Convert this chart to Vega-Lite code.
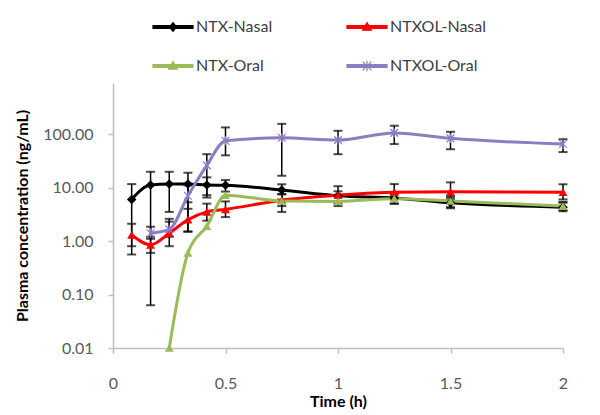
{
  "$schema": "https://vega.github.io/schema/vega-lite/v6.json",
  "width": 450,
  "height": 265,
  "autosize": "none",
  "padding": {"left": 113, "top": 83, "right": 37, "bottom": 67},
  "background": "white",
  "config": {
    "view": {"stroke": null},
    "font": "Lato",
    "axis": {"grid": false, "domainColor": "#bfbfbf", "tickColor": "#bfbfbf", "domainWidth": 1.5, "tickWidth": 1.5, "tickSize": 5, "labelColor": "#595959", "labelFont": "Lato", "labelFontSize": 16, "titleFont": "Lato", "titleFontSize": 16, "titleFontWeight": "bold", "titleColor": "#000000"},
    "legend": {"title": null, "orient": "none", "legendX": 39, "legendY": -77, "columns": 2, "columnPadding": 71, "rowPadding": 10, "padding": 0, "symbolSize": 1600, "symbolStrokeWidth": 1.2, "labelFont": "Lato", "labelFontSize": 16, "labelColor": "#404040", "labelOffset": 2}
  },
  "data": {
    "values": [
      {"series": "NTX-Nasal", "t": 0.083, "v": 6.0, "lo": 0.56, "hi": 11.6},
      {"series": "NTX-Nasal", "t": 0.167, "v": 11.1, "lo": 0.063, "hi": 19.7},
      {"series": "NTX-Nasal", "t": 0.25, "v": 11.6, "lo": 3.5, "hi": 19.7},
      {"series": "NTX-Nasal", "t": 0.333, "v": 11.6, "lo": 1.5, "hi": 18.9},
      {"series": "NTX-Nasal", "t": 0.417, "v": 11.1, "lo": 6.5, "hi": 15.5},
      {"series": "NTX-Nasal", "t": 0.5, "v": 11.0, "lo": 8.4, "hi": 13.8},
      {"series": "NTX-Nasal", "t": 0.75, "v": 9.0, "lo": 6.0, "hi": 11.5},
      {"series": "NTX-Nasal", "t": 1.0, "v": 7.0, "lo": 5.5, "hi": 8.5},
      {"series": "NTX-Nasal", "t": 1.25, "v": 6.4, "lo": 5.0, "hi": 8.0},
      {"series": "NTX-Nasal", "t": 1.5, "v": 5.2, "lo": 4.3, "hi": 6.5},
      {"series": "NTX-Nasal", "t": 2.0, "v": 4.3, "lo": 3.6, "hi": 5.2},
      {"series": "NTXOL-Nasal", "t": 0.083, "v": 1.3, "lo": 0.8, "hi": 2.1},
      {"series": "NTXOL-Nasal", "t": 0.167, "v": 0.85, "lo": 0.6, "hi": 1.2},
      {"series": "NTXOL-Nasal", "t": 0.25, "v": 1.4, "lo": 0.8, "hi": 2.3},
      {"series": "NTXOL-Nasal", "t": 0.333, "v": 2.5, "lo": 1.5, "hi": 5.3},
      {"series": "NTXOL-Nasal", "t": 0.417, "v": 3.5, "lo": 2.4, "hi": 5.0},
      {"series": "NTXOL-Nasal", "t": 0.5, "v": 3.9, "lo": 2.8, "hi": 5.5},
      {"series": "NTXOL-Nasal", "t": 0.75, "v": 5.8, "lo": 4.5, "hi": 7.5},
      {"series": "NTXOL-Nasal", "t": 1.0, "v": 7.2, "lo": 5.0, "hi": 10.6},
      {"series": "NTXOL-Nasal", "t": 1.25, "v": 8.2, "lo": 6.0, "hi": 11.6},
      {"series": "NTXOL-Nasal", "t": 1.5, "v": 8.3, "lo": 6.0, "hi": 12.5},
      {"series": "NTXOL-Nasal", "t": 2.0, "v": 8.2, "lo": 6.0, "hi": 11.5},
      {"series": "NTX-Oral", "t": 0.25, "v": 0.01},
      {"series": "NTX-Oral", "t": 0.333, "v": 0.6},
      {"series": "NTX-Oral", "t": 0.417, "v": 1.9},
      {"series": "NTX-Oral", "t": 0.5, "v": 7.2},
      {"series": "NTX-Oral", "t": 0.75, "v": 5.6, "lo": 3.5, "hi": 7.5},
      {"series": "NTX-Oral", "t": 1.0, "v": 5.5, "lo": 4.5, "hi": 6.8},
      {"series": "NTX-Oral", "t": 1.25, "v": 6.2, "lo": 5.0, "hi": 7.5},
      {"series": "NTX-Oral", "t": 1.5, "v": 5.6, "lo": 4.1, "hi": 7.0},
      {"series": "NTX-Oral", "t": 2.0, "v": 4.5, "lo": 3.8, "hi": 5.4},
      {"series": "NTXOL-Oral", "t": 0.167, "v": 1.4, "lo": 1.1, "hi": 1.85},
      {"series": "NTXOL-Oral", "t": 0.25, "v": 1.65, "lo": 1.2, "hi": 2.6},
      {"series": "NTXOL-Oral", "t": 0.333, "v": 7.0, "lo": 4.0, "hi": 11.0},
      {"series": "NTXOL-Oral", "t": 0.417, "v": 26, "lo": 7.2, "hi": 42},
      {"series": "NTXOL-Oral", "t": 0.5, "v": 75, "lo": 40, "hi": 133},
      {"series": "NTXOL-Oral", "t": 0.75, "v": 85, "lo": 16.6, "hi": 155},
      {"series": "NTXOL-Oral", "t": 1.0, "v": 77, "lo": 42, "hi": 115},
      {"series": "NTXOL-Oral", "t": 1.25, "v": 105, "lo": 65, "hi": 143},
      {"series": "NTXOL-Oral", "t": 1.5, "v": 83, "lo": 52, "hi": 110},
      {"series": "NTXOL-Oral", "t": 2.0, "v": 65, "lo": 46, "hi": 80}
    ]
  },
  "encoding": {
    "x": {"field": "t", "type": "quantitative", "scale": {"domain": [0, 2], "nice": false},
      "axis": {"values": [0, 0.5, 1, 1.5, 2], "format": "~g", "labelFlush": false, "labelPadding": 22, "titlePadding": 2, "title": "Time (h)"}},
    "y": {"field": "v", "type": "quantitative", "scale": {"type": "log", "domain": [0.01, 900], "nice": false},
      "axis": {"values": [0.01, 0.1, 1, 10, 100], "format": ".2f", "labelPadding": 15, "titlePadding": 12, "title": "Plasma concentration (ng/mL)"}}
  },
  "layer": [
    {
      "mark": {"type": "rule", "color": "#000000", "strokeWidth": 1.5},
      "encoding": {"y": {"field": "lo", "type": "quantitative"}, "y2": {"field": "hi"}}
    },
    {
      "mark": {"type": "tick", "color": "#000000", "orient": "horizontal", "size": 9, "thickness": 2},
      "encoding": {"y": {"field": "lo", "type": "quantitative"}}
    },
    {
      "mark": {"type": "tick", "color": "#000000", "orient": "horizontal", "size": 9, "thickness": 2},
      "encoding": {"y": {"field": "hi", "type": "quantitative"}}
    },
    {
      "mark": {"type": "line", "strokeWidth": 3, "interpolate": "monotone"},
      "encoding": {
        "color": {"field": "series", "type": "nominal",
          "scale": {"domain": ["NTX-Nasal", "NTX-Oral", "NTXOL-Nasal", "NTXOL-Oral"], "range": ["#000000", "#9bbb59", "#ff0000", "#8e7cc3"]}}
      }
    },
    {
      "transform": [{"filter": "datum.series == 'NTX-Nasal'"}],
      "mark": {"type": "point", "shape": "diamond", "filled": true, "size": 90, "opacity": 1, "color": "#000000"}
    },
    {
      "transform": [{"filter": "datum.series == 'NTXOL-Nasal'"}],
      "mark": {"type": "point", "shape": "triangle-up", "filled": true, "size": 80, "opacity": 1, "color": "#ff0000"}
    },
    {
      "transform": [{"filter": "datum.series == 'NTX-Oral'"}],
      "mark": {"type": "point", "shape": "triangle-up", "filled": true, "size": 80, "opacity": 1, "color": "#9bbb59"}
    },
    {
      "transform": [{"filter": "datum.series == 'NTXOL-Oral'"}],
      "mark": {"type": "point", "shape": "M-1,-1L1,1M-1,1L1,-1M0,-1.2L0,1.2", "filled": false, "size": 60, "strokeWidth": 1.2, "opacity": 1, "color": "#8e7cc3"}
    },
    {
      "transform": [{"filter": "datum.t > 100"}],
      "mark": {"type": "point", "filled": true, "opacity": 1},
      "encoding": {
        "color": {"field": "series", "type": "nominal"},
        "stroke": {"field": "series", "type": "nominal",
          "scale": {"domain": ["NTX-Nasal", "NTX-Oral", "NTXOL-Nasal", "NTXOL-Oral"], "range": ["#000000", "#9bbb59", "#ff0000", "#8e7cc3"]}},
        "shape": {"field": "series", "type": "nominal",
          "scale": {"domain": ["NTX-Nasal", "NTX-Oral", "NTXOL-Nasal", "NTXOL-Oral"],
            "range": ["M-1,-0.07H1V0.07H-1ZM0,-0.22L0.18,0L0,0.22L-0.18,0Z", "M-1,-0.07H1V0.07H-1ZM0,-0.22L0.22,0.16L-0.22,0.16Z", "M-1,-0.07H1V0.07H-1ZM0,-0.22L0.22,0.16L-0.22,0.16Z", "M-1,-0.07H1V0.07H-1ZM-0.22,-0.22L0.22,0.22M-0.22,0.22L0.22,-0.22M0,-0.26L0,0.26"]}}
      }
    }
  ]
}
